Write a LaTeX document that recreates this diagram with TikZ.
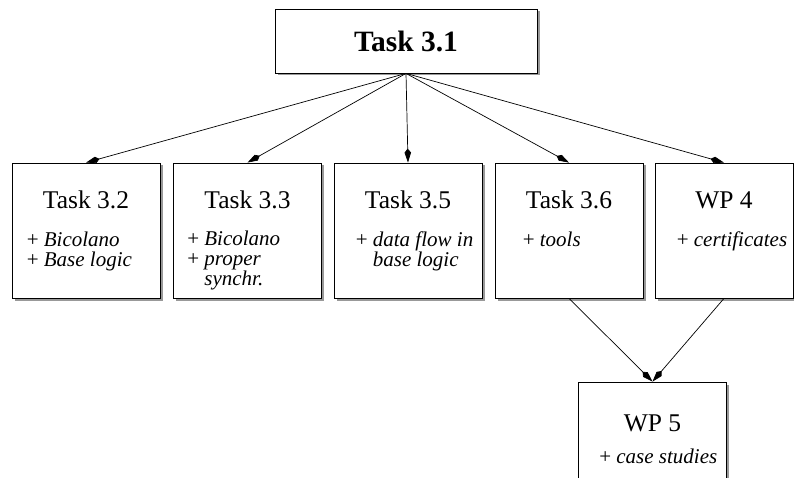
\documentclass[tikz,border=0pt]{standalone}
\usepackage{fontspec}
\setmainfont{Liberation Serif}
\usetikzlibrary{arrows.meta,shadows}

\tikzset{
  wpbox/.style={draw,fill=white,line width=0.8pt,minimum width=148pt,
    minimum height=135pt,inner sep=0pt,
    drop shadow={shadow xshift=2.5pt,shadow yshift=-2.5pt,fill=gray!80,opacity=1}},
  wptitle/.style={font=\fontsize{25.5}{30}\selectfont,anchor=base},
  % base of a multi-line item is the baseline of its last line
  wpitem/.style={font=\fontsize{21}{20}\selectfont,anchor=base west,
    align=left,inner sep=0pt},
  dep/.style={-{Kite[length=14pt,width=6.5pt,inset=4pt]},line width=0.7pt}
}

\begin{document}
\begin{tikzpicture}[x=1pt,y=-1pt]
\useasboundingbox (0,0) rectangle (794,478);
\clip (0,0) rectangle (794,478);

% top task
\node [wpbox,minimum width=262pt,minimum height=64pt,
    font=\bfseries\fontsize{29.5}{34}\selectfont] (t31) at (406,41) {Task 3.1};

% sub tasks and work packages
\path
    (86,230.5) node [wpbox] (t32) {}
    (247.5,230.5) node [wpbox] (t33) {}
    (408,230.5) node [wpbox] (t35) {}
    (569,230.5) node [wpbox] (t36) {}
    (724,230.5) node [wpbox,minimum width=138pt] (wp4) {}
    (652.5,449.5) node [wpbox] (wp5) {};
\path
    (t32.north) +(0,46) node [wptitle] {Task 3.2}
    (t33.north) +(0,46) node [wptitle] {Task 3.3}
    (t35.north) +(0,46) node [wptitle] {Task 3.5}
    (t36.north) +(0,46) node [wptitle] {Task 3.6}
    (wp4.north) +(0,46) node [wptitle] {WP 4}
    (wp5.north) +(0,50) node [wptitle] {WP 5};
\path
    (t32.north west) +(15,104) node [wpitem] {+ \textit{Bicolano}\\+ \textit{Base logic}}
    (t33.north west) +(14,123) node [wpitem] {+ \textit{Bicolano}\\+ \textit{proper}\\\phantom{+ }\textit{synchr.}}
    (t35.north west) +(22,104) node [wpitem] {+ \textit{data flow in}\\\phantom{+ }\textit{base logic}}
    (t36.north west) +(28,84) node [wpitem] {+ \textit{tools}}
    (wp4.north west) +(22,84) node [wpitem] {+ \textit{certificates}}
    (wp5.north west) +(21,82) node [wpitem] {+ \textit{case studies}};

% dependencies
\draw [dep] (t31.south) -- (t32.north);
\draw [dep] (t31.south) -- (t33.north);
\draw [dep] (t31.south) -- (t35.north);
\draw [dep] (t31.south) -- (t36.north);
\draw [dep] (t31.south) -- (wp4.north);
\draw [dep] (t36.south) -- (wp5.north);
\draw [dep] (wp4.south) -- (wp5.north);
\end{tikzpicture}
\end{document}
